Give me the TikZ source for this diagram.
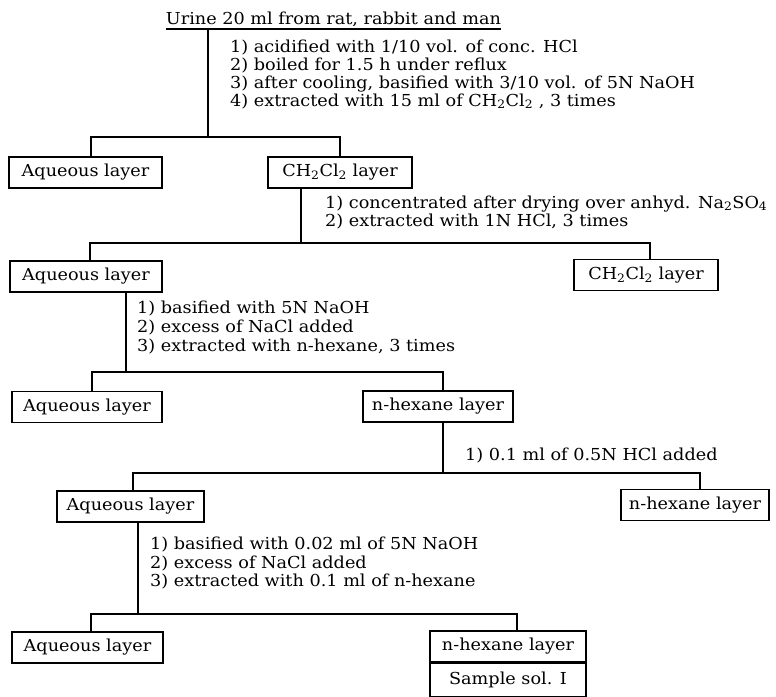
\documentclass[tikz,border=0pt]{standalone}
\usepackage{fontspec}
\setmainfont{DejaVu Serif}[FakeStretch=1.07]
\usetikzlibrary{calc}
\newcommand{\sub}[1]{\textsubscript{#1}}
\begin{document}
\begin{tikzpicture}[x=1pt,y=-1pt,
  every node/.style={font=\fontsize{16.5}{18}\selectfont},
  box/.style={draw, line width=1.1pt, minimum height=31pt, inner sep=0pt},
  steptext/.style={anchor=base west, inner sep=0pt},
  link/.style={line width=1.2pt}]
\useasboundingbox (0,0) rectangle (776,696);
% title
\node[anchor=base, inner sep=0pt] (title) at (333.5,24) {Urine 20 ml from rat, rabbit and man};
\draw[link] ([yshift=-5pt]title.base west) -- ([yshift=-5pt]title.base east);
\coordinate (ul1) at (208,29);
% step block 1
\node[steptext] (b1a) at (230,52) {1) acidified with 1/10 vol. of conc. HCl};
\node[steptext] (b1b) at (230,70) {2) boiled for 1.5 h under reflux};
\node[steptext] (b1c) at (230,88) {3) after cooling, basified with 3/10 vol. of 5N NaOH};
\node[steptext] (b1d) at (230,106) {4) extracted with 15 ml of CH\sub{2}Cl\sub{2} , 3 times};
% level 1 boxes
\node[box, minimum width=153pt] (aq1) at (85.5,172.5) {Aqueous layer};
\node[box, minimum width=144pt] (ch1) at (340,172.5) {CH\sub{2}Cl\sub{2} layer};
\coordinate (j1) at (208,137);
\draw[link] (ul1) -- (j1);
\draw[link] ([xshift=5.5pt]aq1.north) |- (j1) -| (ch1.north);
% step block 2
\node[steptext] (b2a) at (325,208) {1) concentrated after drying over anhyd. Na\sub{2}SO\sub{4}};
\node[steptext] (b2b) at (325,226) {2) extracted with 1N HCl, 3 times};
% level 2 boxes
\node[box, minimum width=152pt] (aq2) at (86,276.5) {Aqueous layer};
\node[box, minimum width=144pt] (ch2) at (646,275) {CH\sub{2}Cl\sub{2} layer};
\coordinate (j2) at (301,243);
\draw[link] ([xshift=-39pt]ch1.south) -- (j2);
\draw[link] ([xshift=4pt]aq2.north) |- (j2) -| ([xshift=4pt]ch2.north);
% step block 3
\node[steptext] (b3a) at (137,313) {1) basified with 5N NaOH};
\node[steptext] (b3b) at (137,332) {2) excess of NaCl added};
\node[steptext] (b3c) at (137,351) {3) extracted with n-hexane, 3 times};
% level 3 boxes
\node[box, minimum width=150pt] (aq3) at (87,407) {Aqueous layer};
\node[box, minimum width=150pt] (nh3) at (438,406.5) {n-hexane layer};
\coordinate (j3) at (126,372);
\draw[link] ([xshift=40pt]aq2.south) -- (j3);
\draw[link] ([xshift=5pt]aq3.north) |- (j3) -| ([xshift=5pt]nh3.north);
% step block 4
\node[steptext] (b4a) at (465,460) {1) 0.1 ml of 0.5N HCl added};
% level 4 boxes
\node[box, minimum width=147pt] (aq4) at (130.5,506.5) {Aqueous layer};
\node[box, minimum width=148pt] (nh4) at (695,505) {n-hexane layer};
\coordinate (j4) at (443,473);
\draw[link] ([xshift=5pt]nh3.south) -- (j4);
\draw[link] ([xshift=2.5pt]aq4.north) |- (j4) -| ([xshift=5pt]nh4.north);
% step block 5
\node[steptext] (b5a) at (150,549) {1) basified with 0.02 ml of 5N NaOH};
\node[steptext] (b5b) at (150,568) {2) excess of NaCl added};
\node[steptext] (b5c) at (150,586) {3) extracted with 0.1 ml of n-hexane};
% level 5 boxes
\node[box, minimum width=151pt] (aq5) at (87.5,647.5) {Aqueous layer};
\node[box, minimum width=156pt] (nh5) at (508,646.5) {n-hexane layer};
\node[box, minimum width=156pt, minimum height=33pt, anchor=north] (ss5) at (nh5.south) {Sample sol. I};
\coordinate (j5) at (138,614);
\draw[link] ([xshift=7.5pt]aq4.south) -- (j5);
\draw[link] ([xshift=3.5pt]aq5.north) |- (j5) -| ([xshift=9pt]nh5.north);
\end{tikzpicture}
\end{document}
